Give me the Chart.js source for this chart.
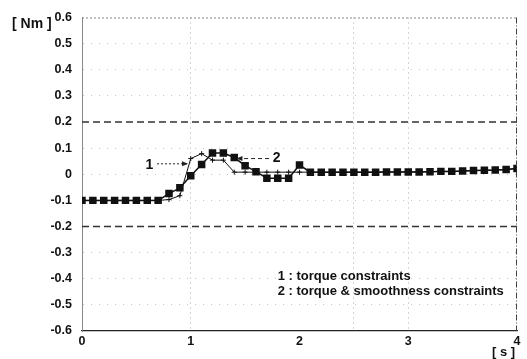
<!DOCTYPE html>
<html>
<head>
<meta charset="utf-8">
<script src="https://cdn.jsdelivr.net/npm/chart.js@4/dist/chart.umd.min.js"></script>
<style>
  html, body { margin: 0; padding: 0; background: #fff; }
  #wrap { width: 527px; height: 359px; }
</style>
</head>
<body>
<div id="wrap"><canvas id="c" width="527" height="359"></canvas></div>
<script>
// ---- data ----
const times = [0,0.1,0.2,0.3,0.4,0.5,0.6,0.7,0.8,0.9,1.0,1.1,1.2,1.3,1.4,1.5,1.6,1.7,1.8,1.9,2.0,
               2.1,2.2,2.3,2.4,2.5,2.6,2.7,2.8,2.9,3.0,3.1,3.2,3.3,3.4,3.5,3.6,3.7,3.8,3.9,4.0];
// 1 : torque constraints
const torqueOnly = [-0.1,-0.1,-0.1,-0.1,-0.1,-0.1,-0.1,-0.1,-0.097,-0.082,0.06,0.079,0.054,0.054,0.008,0.008,0.008,0.008,0.008,0.008,0.008,
                    0.008,0.008,0.008,0.008,0.008,0.008,0.008,0.009,0.009,0.009,0.009,0.010,0.011,0.011,0.012,0.014,0.015,0.016,0.018,0.022];
// 2 : torque & smoothness constraints
const torqueSmooth = [-0.1,-0.1,-0.1,-0.1,-0.1,-0.1,-0.1,-0.1,-0.074,-0.052,-0.006,0.037,0.081,0.081,0.064,0.033,0.01,-0.015,-0.015,-0.015,0.035,
                      0.008,0.008,0.008,0.008,0.008,0.008,0.008,0.009,0.009,0.009,0.009,0.010,0.011,0.011,0.012,0.014,0.015,0.016,0.018,0.022];
const limitValues = [0.2, -0.2];
const timeRange = [0, 4];
const xTickLabels = ['0','1','2','3','4'];
const yTickValues = [-0.6,-0.5,-0.4,-0.3,-0.2,-0.1,0,0.1,0.2,0.3,0.4,0.5,0.6];
const legendTexts = ['1 : torque constraints', '2 : torque & smoothness constraints'];
const yUnit = '[ Nm ]';
const xUnit = '[ s ]';

const FONT = '"Liberation Sans", Arial, Helvetica, sans-serif';

const toPts = (ys) => times.map((t, i) => ({x: t, y: ys[i]}));

const limitSets = limitValues.map(v => ({
  data: timeRange.map(t => ({x: t, y: v})),
  borderColor: '#333',
  borderWidth: 1.5,
  borderDash: [7, 4],
  pointRadius: 0,
  fill: false,
  order: 3
}));

const overlay = {
  id: 'overlay',
  afterDraw(chart) {
    const {ctx, chartArea: a, scales: {x, y}} = chart;
    ctx.save();
    // top border (dotted) and right border (dash-dot)
    ctx.strokeStyle = '#888';
    ctx.lineWidth = 1;
    ctx.setLineDash([2, 2]);
    ctx.beginPath(); ctx.moveTo(a.left, a.top + 0.5); ctx.lineTo(a.right, a.top + 0.5); ctx.stroke();
    ctx.strokeStyle = '#444';
    ctx.setLineDash([6, 2, 1, 2]);
    ctx.beginPath(); ctx.moveTo(a.right - 0.5, a.top); ctx.lineTo(a.right - 0.5, a.bottom); ctx.stroke();
    ctx.setLineDash([]);

    ctx.fillStyle = '#111';
    ctx.textBaseline = 'middle';
    // units
    ctx.font = 'bold 14px ' + FONT;
    ctx.textAlign = 'left';
    ctx.fillText(yUnit, 12, 24);
    ctx.font = 'bold 13px ' + FONT;
    ctx.fillText(xUnit, 492, 352);

    // legend text
    ctx.font = 'bold 13px ' + FONT;
    ctx.fillText(legendTexts[0], x.getPixelForValue(1.8), y.getPixelForValue(-0.392));
    ctx.fillText(legendTexts[1], x.getPixelForValue(1.8), y.getPixelForValue(-0.448));

    const arrow = (x1, y1, x2, y2, dash) => {
      ctx.strokeStyle = '#222';
      ctx.lineWidth = 1;
      ctx.setLineDash(dash);
      ctx.beginPath(); ctx.moveTo(x1, y1); ctx.lineTo(x2, y2); ctx.stroke();
      ctx.setLineDash([]);
      const dir = Math.sign(x2 - x1);
      ctx.fillStyle = '#222';
      ctx.beginPath();
      ctx.moveTo(x2, y2);
      ctx.lineTo(x2 - dir * 6, y2 - 2.5);
      ctx.lineTo(x2 - dir * 6, y2 + 2.5);
      ctx.closePath(); ctx.fill();
    };
    ctx.font = 'bold 14px ' + FONT;
    ctx.textAlign = 'center';
    ctx.fillStyle = '#111';
    const ay1 = y.getPixelForValue(0.04);
    ctx.fillText('1', x.getPixelForValue(0.62), ay1 + 1);
    arrow(x.getPixelForValue(0.69), ay1, x.getPixelForValue(0.975), ay1, [2, 2]);

    const ay2 = y.getPixelForValue(0.06);
    ctx.fillStyle = '#111';
    ctx.fillText('2', x.getPixelForValue(1.79), ay2);
    arrow(x.getPixelForValue(1.72), ay2, x.getPixelForValue(1.42), ay2, [4, 3]);
    ctx.restore();
  }
};

new Chart(document.getElementById('c'), {
  type: 'line',
  data: {
    datasets: [
      {
        label: legendTexts[1],
        data: toPts(torqueSmooth),
        borderColor: '#111',
        backgroundColor: '#111',
        borderWidth: 1.5,
        pointStyle: 'rect',
        pointRadius: 5.3,
        pointBorderWidth: 0,
        tension: 0,
        order: 2
      },
      {
        label: legendTexts[0],
        data: toPts(torqueOnly),
        borderColor: '#111',
        backgroundColor: '#111',
        borderWidth: 1,
        pointStyle: 'cross',
        pointRadius: 2.5,
        pointBorderWidth: 1,
        tension: 0,
        order: 1
      },
      ...limitSets
    ]
  },
  options: {
    responsive: false,
    animation: false,
    devicePixelRatio: 1,
    layout: { padding: { top: 11, right: 10, left: 0, bottom: 0 } },
    plugins: { legend: { display: false }, tooltip: { enabled: false } },
    scales: {
      x: {
        type: 'linear',
        min: timeRange[0], max: timeRange[1],
        afterFit(s) { s.height = 28; },
        afterBuildTicks(s) {
          s.ticks = [0,0.5,1,1.5,2,2.5,3,3.5,4].map(v => ({value: v}));
        },
        ticks: {
          autoSkip: false, maxRotation: 0, padding: 3,
          color: '#111',
          font: { family: FONT, size: 12.5, weight: 'bold' },
          callback: (v) => Number.isInteger(v) ? xTickLabels[v] : ''
        },
        grid: {
          drawTicks: false,
          lineWidth: 1,
          color: (c) => (c.tick && [1, 2.5, 3].includes(c.tick.value)) ? '#aaa' : 'rgba(0,0,0,0)'
        },
        border: { display: true, color: '#222', width: 1.2, dash: [1, 4] }
      },
      y: {
        min: -0.6, max: 0.6,
        afterFit(s) { s.width = 82; },
        afterBuildTicks(s) { s.ticks = yTickValues.map(v => ({value: v})); },
        ticks: {
          padding: 10,
          color: '#111',
          font: { family: FONT, size: 12.5, weight: 'bold' },
          callback: (v) => {
            const r = Math.round(v * 10) / 10;
            return r === 0 ? '0' : r.toFixed(1);
          }
        },
        grid: {
          drawTicks: false,
          lineWidth: 1,
          color: (c) => {
            const v = c.tick ? Math.round(c.tick.value * 10) / 10 : null;
            if (v === 0.2 || v === -0.2 || v === 0.6 || v === -0.6) return 'rgba(0,0,0,0)';
            return '#c4c4c4';
          }
        },
        border: { display: true, color: '#888', width: 1, dash: [1, 7] }
      }
    }
  },
  plugins: [overlay]
});
</script>
</body>
</html>
